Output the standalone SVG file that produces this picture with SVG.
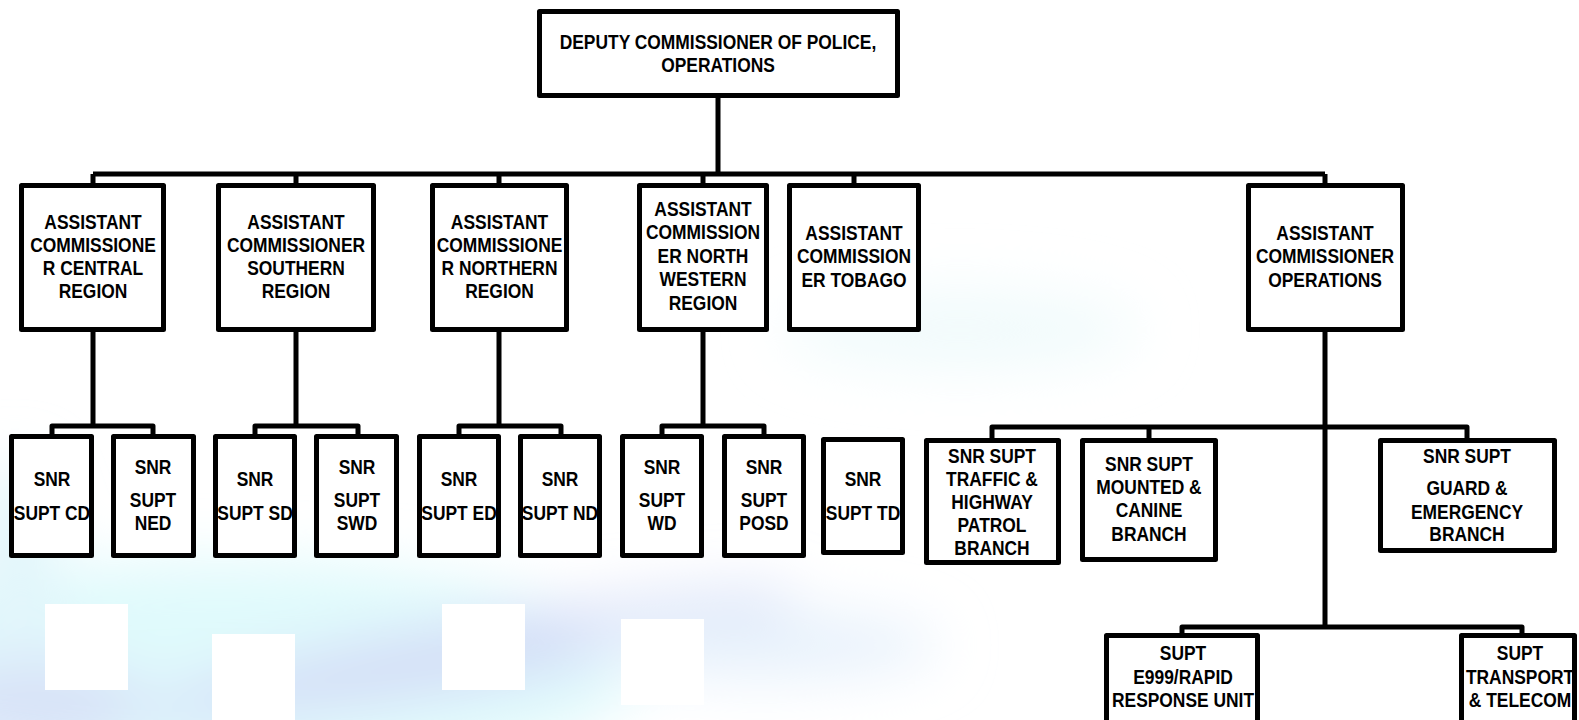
<svg xmlns="http://www.w3.org/2000/svg" width="1579" height="720" viewBox="0 0 1579 720">
<style>
.box{fill:#fff;stroke:#000;stroke-width:5;stroke-linejoin:round}
.ln{fill:none;stroke:#000;stroke-width:5;stroke-linejoin:round}
text{font-family:"Liberation Sans",Arial,sans-serif;font-weight:bold;font-size:20px;text-anchor:middle;fill:#000}
.blank{fill:#fff}
</style>
<defs>
<filter id="blur" x="-50%" y="-50%" width="200%" height="200%"><feGaussianBlur stdDeviation="28"/></filter>
</defs>
<rect x="0" y="0" width="1579" height="720" fill="#fff"/>
<g id="background" filter="url(#blur)">
<ellipse cx="220" cy="670" rx="420" ry="110" fill="#e0fafc"/>
<ellipse cx="15" cy="600" rx="45" ry="140" fill="#e2f6fb"/>
<ellipse cx="470" cy="655" rx="330" ry="32" fill="#d4dcf7" transform="rotate(-10 470 655)"/>
<ellipse cx="40" cy="705" rx="110" ry="45" fill="#d8e2f8"/>
<ellipse cx="760" cy="645" rx="180" ry="35" fill="#e8f2fc"/>
<ellipse cx="960" cy="330" rx="180" ry="40" fill="#f1fbfc"/>
</g>
<g id="blanks">
<rect class="blank" x="45" y="604" width="83" height="86"/>
<rect class="blank" x="212" y="634" width="83" height="86"/>
<rect class="blank" x="442" y="604" width="83" height="86"/>
<rect class="blank" x="621" y="619" width="83" height="86"/>
</g>
<g id="connectors">
<path class="ln" d="M718 98V174M93 174H1325M93 174V184M296 174V184M499 174V184M703 174V184M854 174V184M1325 174V184"/>
<path class="ln" d="M93 332V426M52 435V426H153V435"/>
<path class="ln" d="M296 332V426M255 435V426H358V435"/>
<path class="ln" d="M499 332V426M459 435V426H561V435"/>
<path class="ln" d="M703 332V426M662 435V426H764V435"/>
<path class="ln" d="M1325 332V627M992 439V427H1467V439M1149 427V439"/>
<path class="ln" d="M1182 634V627H1522V634"/>
</g>
<g id="deputy">
<rect class="box" x="539.5" y="11.5" width="358" height="84"/>
<text transform="translate(718 49) scale(.87 1)">DEPUTY COMMISSIONER OF POLICE,</text>
<text transform="translate(718 72) scale(.87 1)">OPERATIONS</text>
</g>
<g id="ac-central">
<rect class="box" x="21.5" y="185.5" width="142" height="144"/>
<text transform="translate(93 229) scale(.87 1)">ASSISTANT</text>
<text transform="translate(93 252) scale(.87 1)">COMMISSIONE</text>
<text transform="translate(93 275) scale(.87 1)">R CENTRAL</text>
<text transform="translate(93 298) scale(.87 1)">REGION</text>
</g>
<g id="ac-southern">
<rect class="box" x="218.5" y="185.5" width="155" height="144"/>
<text transform="translate(296 229) scale(.87 1)">ASSISTANT</text>
<text transform="translate(296 252) scale(.87 1)">COMMISSIONER</text>
<text transform="translate(296 275) scale(.87 1)">SOUTHERN</text>
<text transform="translate(296 298) scale(.87 1)">REGION</text>
</g>
<g id="ac-northern">
<rect class="box" x="432.5" y="185.5" width="134" height="144"/>
<text transform="translate(499.5 229) scale(.87 1)">ASSISTANT</text>
<text transform="translate(499.5 252) scale(.87 1)">COMMISSIONE</text>
<text transform="translate(499.5 275) scale(.87 1)">R NORTHERN</text>
<text transform="translate(499.5 298) scale(.87 1)">REGION</text>
</g>
<g id="ac-northwestern">
<rect class="box" x="639.5" y="185.5" width="127" height="144"/>
<text transform="translate(703 216) scale(.87 1)">ASSISTANT</text>
<text transform="translate(703 239) scale(.87 1)">COMMISSION</text>
<text transform="translate(703 263) scale(.87 1)">ER NORTH</text>
<text transform="translate(703 286) scale(.87 1)">WESTERN</text>
<text transform="translate(703 310) scale(.87 1)">REGION</text>
</g>
<g id="ac-tobago">
<rect class="box" x="789.5" y="185.5" width="129" height="144"/>
<text transform="translate(854 240) scale(.87 1)">ASSISTANT</text>
<text transform="translate(854 263) scale(.87 1)">COMMISSION</text>
<text transform="translate(854 287) scale(.87 1)">ER TOBAGO</text>
</g>
<g id="ac-operations">
<rect class="box" x="1248.5" y="185.5" width="154" height="144"/>
<text transform="translate(1325 240) scale(.87 1)">ASSISTANT</text>
<text transform="translate(1325 263) scale(.87 1)">COMMISSIONER</text>
<text transform="translate(1325 287) scale(.87 1)">OPERATIONS</text>
</g>
<g id="snr-cd">
<rect class="box" x="11.5" y="436.5" width="80" height="119"/>
<text transform="translate(52 486) scale(.87 1)">SNR</text>
<text transform="translate(52 520) scale(.87 1)">SUPT CD</text>
</g>
<g id="snr-ned">
<rect class="box" x="113.5" y="436.5" width="80" height="119"/>
<text transform="translate(153 474) scale(.87 1)">SNR</text>
<text transform="translate(153 507) scale(.87 1)">SUPT</text>
<text transform="translate(153 530) scale(.87 1)">NED</text>
</g>
<g id="snr-sd">
<rect class="box" x="215.5" y="436.5" width="79" height="119"/>
<text transform="translate(255 486) scale(.87 1)">SNR</text>
<text transform="translate(255 520) scale(.87 1)">SUPT SD</text>
</g>
<g id="snr-swd">
<rect class="box" x="316.5" y="436.5" width="80" height="119"/>
<text transform="translate(357 474) scale(.87 1)">SNR</text>
<text transform="translate(357 507) scale(.87 1)">SUPT</text>
<text transform="translate(357 530) scale(.87 1)">SWD</text>
</g>
<g id="snr-ed">
<rect class="box" x="419.5" y="436.5" width="79" height="119"/>
<text transform="translate(459 486) scale(.87 1)">SNR</text>
<text transform="translate(459 520) scale(.87 1)">SUPT ED</text>
</g>
<g id="snr-nd">
<rect class="box" x="520.5" y="436.5" width="79" height="119"/>
<text transform="translate(560 486) scale(.87 1)">SNR</text>
<text transform="translate(560 520) scale(.87 1)">SUPT ND</text>
</g>
<g id="snr-wd">
<rect class="box" x="622.5" y="436.5" width="79" height="119"/>
<text transform="translate(662 474) scale(.87 1)">SNR</text>
<text transform="translate(662 507) scale(.87 1)">SUPT</text>
<text transform="translate(662 530) scale(.87 1)">WD</text>
</g>
<g id="snr-posd">
<rect class="box" x="724.5" y="436.5" width="79" height="119"/>
<text transform="translate(764 474) scale(.87 1)">SNR</text>
<text transform="translate(764 507) scale(.87 1)">SUPT</text>
<text transform="translate(764 530) scale(.87 1)">POSD</text>
</g>
<g id="snr-td">
<rect class="box" x="823.5" y="439.5" width="79" height="113"/>
<text transform="translate(863 486) scale(.87 1)">SNR</text>
<text transform="translate(863 520) scale(.87 1)">SUPT TD</text>
</g>
<g id="snr-traffic">
<rect class="box" x="926.5" y="440.5" width="132" height="122"/>
<text transform="translate(992 463) scale(.87 1)">SNR SUPT</text>
<text transform="translate(992 486) scale(.87 1)">TRAFFIC &amp;</text>
<text transform="translate(992 509) scale(.87 1)">HIGHWAY</text>
<text transform="translate(992 532) scale(.87 1)">PATROL</text>
<text transform="translate(992 555) scale(.87 1)">BRANCH</text>
</g>
<g id="snr-mounted">
<rect class="box" x="1082.5" y="440.5" width="133" height="119"/>
<text transform="translate(1149 471) scale(.87 1)">SNR SUPT</text>
<text transform="translate(1149 494) scale(.87 1)">MOUNTED &amp;</text>
<text transform="translate(1149 517) scale(.87 1)">CANINE</text>
<text transform="translate(1149 541) scale(.87 1)">BRANCH</text>
</g>
<g id="snr-guard">
<rect class="box" x="1380.5" y="440.5" width="174" height="110"/>
<text transform="translate(1467 463) scale(.87 1)">SNR SUPT</text>
<text transform="translate(1467 495) scale(.87 1)">GUARD &amp;</text>
<text transform="translate(1467 519) scale(.87 1)">EMERGENCY</text>
<text transform="translate(1467 541) scale(.87 1)">BRANCH</text>
</g>
<g id="supt-e999">
<rect class="box" x="1106.5" y="635.5" width="151" height="100"/>
<text transform="translate(1183 660) scale(.87 1)">SUPT</text>
<text transform="translate(1183 684) scale(.87 1)">E999/RAPID</text>
<text transform="translate(1183 707) scale(.87 1)">RESPONSE UNIT</text>
</g>
<g id="supt-transport">
<rect class="box" x="1461.5" y="635.5" width="113" height="100"/>
<text transform="translate(1520 660) scale(.87 1)">SUPT</text>
<text transform="translate(1520 684) scale(.87 1)">TRANSPORT</text>
<text transform="translate(1520 707) scale(.87 1)">&amp; TELECOM</text>
</g>
</svg>
